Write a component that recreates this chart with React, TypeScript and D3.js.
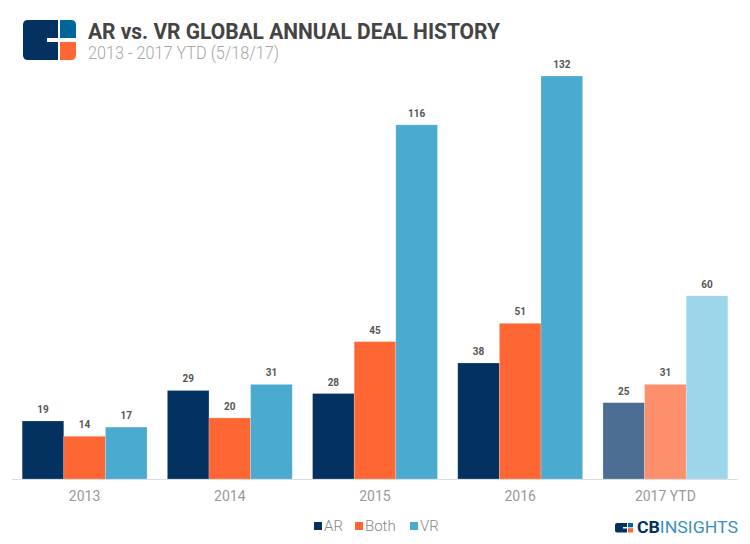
import React from "react";
import * as d3 from "d3";

const categories = ["2013", "2014", "2015", "2016", "2017 YTD"];
const seriesNames = ["AR", "Both", "VR"];
const arValues = [19, 29, 28, 38, 25];
const bothValues = [14, 20, 45, 51, 31];
const vrValues = [17, 31, 116, 132, 60];
const seriesColors = ["#033160", "#fe6634", "#4baacf"];
const ytdColors = ["#4b6e92", "#fe8f6c", "#9dd5ea"];

const W = 750;
const H = 544;

export default function App() {
  const values = [arValues, bothValues, vrValues];
  const x0 = d3.scaleBand<string>().domain(categories).range([12, 738]).paddingInner(0.14).paddingOuter(0.07);
  const x1 = d3.scaleBand<string>().domain(seriesNames).range([0, x0.bandwidth()]).padding(0);
  const y = d3.scaleLinear().domain([0, 132]).range([479, 76]);
  const font = "Roboto, 'Noto Sans', sans-serif";

  return (
    <svg width={W} height={H} style={{ position: "absolute", left: 0, top: 0 }}>
      <rect width={W} height={H} fill="#fff" />
      {/* logo */}
      <g>
        <path d="M28,20 H58 V38 H47 V42 H58 V60 H28 Q23,60 23,55 V25 Q23,20 28,20 Z" fill="#033160" />
        <path d="M60,20 H71 Q76,20 76,25 V38 H60 Z" fill="#006699" />
        <path d="M60,42 H76 V55 Q76,60 71,60 H60 Z" fill="#fe6634" />
      </g>
      <text x={88} y={39} fontFamily={font} fontWeight={700} fontSize={22} fill="#444"
        textLength={412} lengthAdjust="spacingAndGlyphs">AR vs. VR GLOBAL ANNUAL DEAL HISTORY</text>
      <text x={88} y={59} fontFamily={font} fontWeight={300} fontSize={17.5} fill="#a6a6a6"
        textLength={191} lengthAdjust="spacingAndGlyphs">2013 - 2017 YTD (5/18/17)</text>

      {/* bars */}
      {categories.map((c, ci) => (
        <g key={c} transform={`translate(${x0(c)},0)`}>
          {seriesNames.map((s, si) => {
            const v = values[si][ci];
            const isYtd = ci === categories.length - 1;
            return (
              <g key={s}>
                <rect x={x1(s)} y={y(v)} width={x1.bandwidth()} height={y(0) - y(v)}
                  fill={isYtd ? ytdColors[si] : seriesColors[si]} stroke="#fff" strokeOpacity={0.35} strokeWidth={0.6} />
                <text x={(x1(s) as number) + x1.bandwidth() / 2} y={y(v) - 8} textAnchor="middle"
                  fontFamily={font} fontWeight={700} fontSize={10} fill="#555">{v}</text>
              </g>
            );
          })}
          <text x={x0.bandwidth() / 2} y={501} textAnchor="middle" fontFamily={font} fontSize={14} fill="#999">{c}</text>
        </g>
      ))}
      <line x1={12} x2={738} y1={479.5} y2={479.5} stroke="#ddd" strokeWidth={1} />

      {/* legend */}
      {seriesNames.map((s, i) => {
        const lx = [314, 355, 410][i];
        return (
          <g key={s}>
            <rect x={lx} y={522} width={8} height={8} fill={seriesColors[i]} />
            <text x={lx + 10} y={530.5} fontFamily={font} fontWeight={300} fontSize={15} fill="#888">{s}</text>
          </g>
        );
      })}

      {/* CB Insights logo */}
      <g>
        <path d="M617,523 H627 V527 H623 V528.5 H627 V532.5 H617 Q615,532.5 615,530.5 V525 Q615,523 617,523 Z" fill="#033160" />
        <rect x={628} y={523} width={5} height={4.3} fill="#006699" />
        <rect x={628} y={528.2} width={5} height={4.3} fill="#fe6634" />
        <text x={637} y={533} fontFamily={font} fontSize={16} textLength={101} lengthAdjust="spacingAndGlyphs">
          <tspan fontWeight={700} fill="#033160">CB</tspan>
          <tspan fontWeight={400} fill="#3a8fc2">INSIGHTS</tspan>
        </text>
      </g>
    </svg>
  );
}
